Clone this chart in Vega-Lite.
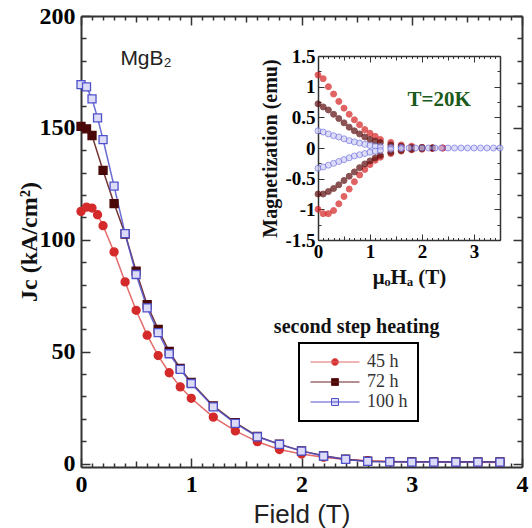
{
  "$schema": "https://vega.github.io/schema/vega-lite/v6.json",
  "width": 441,
  "height": 451,
  "autosize": "none",
  "padding": {"left": 81, "top": 16, "right": 10, "bottom": 61},
  "background": "white",
  "config": {"view": {"stroke": null}, "axis": {"grid": false}, "legend": {"strokeWidth": 2}},
  "datasets": {
    "main": [
      {"series": "45 h", "field": 0, "jc": 112.7}, {"series": "45 h", "field": 0.05, "jc": 114.6}, {"series": "45 h", "field": 0.1, "jc": 114.2}, {"series": "45 h", "field": 0.15, "jc": 111.2}, {"series": "45 h", "field": 0.2, "jc": 106.3}, {"series": "45 h", "field": 0.3, "jc": 94.6}, {"series": "45 h", "field": 0.4, "jc": 81.2}, {"series": "45 h", "field": 0.5, "jc": 68.5}, {"series": "45 h", "field": 0.6, "jc": 57.4}, {"series": "45 h", "field": 0.7, "jc": 48.3}, {"series": "45 h", "field": 0.8, "jc": 40.6}, {"series": "45 h", "field": 0.9, "jc": 34.3}, {"series": "45 h", "field": 1.0, "jc": 29.2}, {"series": "45 h", "field": 1.2, "jc": 20.8}, {"series": "45 h", "field": 1.4, "jc": 14.6}, {"series": "45 h", "field": 1.6, "jc": 9.8}, {"series": "45 h", "field": 1.8, "jc": 6.3}, {"series": "45 h", "field": 2.0, "jc": 4.3}, {"series": "45 h", "field": 2.2, "jc": 2.9}, {"series": "45 h", "field": 2.4, "jc": 1.9}, {"series": "45 h", "field": 2.6, "jc": 1.3}, {"series": "45 h", "field": 2.8, "jc": 1.0}, {"series": "45 h", "field": 3.0, "jc": 0.8}, {"series": "45 h", "field": 3.2, "jc": 0.7}, {"series": "45 h", "field": 3.4, "jc": 0.6}, {"series": "45 h", "field": 3.6, "jc": 0.6}, {"series": "45 h", "field": 3.8, "jc": 0.5},
      {"series": "72 h", "field": 0, "jc": 150.7}, {"series": "72 h", "field": 0.05, "jc": 149.6}, {"series": "72 h", "field": 0.1, "jc": 146.6}, {"series": "72 h", "field": 0.2, "jc": 131}, {"series": "72 h", "field": 0.3, "jc": 116.2}, {"series": "72 h", "field": 0.4, "jc": 102.6}, {"series": "72 h", "field": 0.5, "jc": 86}, {"series": "72 h", "field": 0.6, "jc": 71}, {"series": "72 h", "field": 0.7, "jc": 60}, {"series": "72 h", "field": 0.8, "jc": 50.1}, {"series": "72 h", "field": 0.9, "jc": 42.6}, {"series": "72 h", "field": 1.0, "jc": 36.3}, {"series": "72 h", "field": 1.2, "jc": 25.8}, {"series": "72 h", "field": 1.4, "jc": 18.3}, {"series": "72 h", "field": 1.6, "jc": 12.2}, {"series": "72 h", "field": 1.8, "jc": 8.7}, {"series": "72 h", "field": 2.0, "jc": 5.7}, {"series": "72 h", "field": 2.2, "jc": 3.5}, {"series": "72 h", "field": 2.4, "jc": 2.0}, {"series": "72 h", "field": 2.6, "jc": 1.1}, {"series": "72 h", "field": 2.8, "jc": 0.9}, {"series": "72 h", "field": 3.0, "jc": 0.8}, {"series": "72 h", "field": 3.2, "jc": 0.8}, {"series": "72 h", "field": 3.4, "jc": 0.8}, {"series": "72 h", "field": 3.6, "jc": 0.8}, {"series": "72 h", "field": 3.8, "jc": 0.8},
      {"series": "100 h", "field": 0, "jc": 169.3}, {"series": "100 h", "field": 0.05, "jc": 168.3}, {"series": "100 h", "field": 0.1, "jc": 163}, {"series": "100 h", "field": 0.15, "jc": 154.5}, {"series": "100 h", "field": 0.2, "jc": 144.8}, {"series": "100 h", "field": 0.3, "jc": 124}, {"series": "100 h", "field": 0.4, "jc": 102.8}, {"series": "100 h", "field": 0.5, "jc": 84.5}, {"series": "100 h", "field": 0.6, "jc": 69.6}, {"series": "100 h", "field": 0.7, "jc": 58.5}, {"series": "100 h", "field": 0.8, "jc": 49.1}, {"series": "100 h", "field": 0.9, "jc": 42.1}, {"series": "100 h", "field": 1.0, "jc": 35.8}, {"series": "100 h", "field": 1.2, "jc": 25.4}, {"series": "100 h", "field": 1.4, "jc": 18}, {"series": "100 h", "field": 1.6, "jc": 12}, {"series": "100 h", "field": 1.8, "jc": 8.6}, {"series": "100 h", "field": 2.0, "jc": 5.6}, {"series": "100 h", "field": 2.2, "jc": 3.4}, {"series": "100 h", "field": 2.4, "jc": 1.9}, {"series": "100 h", "field": 2.6, "jc": 1.0}, {"series": "100 h", "field": 2.8, "jc": 0.8}, {"series": "100 h", "field": 3.0, "jc": 0.7}, {"series": "100 h", "field": 3.2, "jc": 0.7}, {"series": "100 h", "field": 3.4, "jc": 0.7}, {"series": "100 h", "field": 3.6, "jc": 0.7}, {"series": "100 h", "field": 3.8, "jc": 0.7}
    ],
    "inset": [
      {"series": "45 h", "branch": "up", "h": 0, "m": 1.19}, {"series": "45 h", "branch": "up", "h": 0.1, "m": 1.13}, {"series": "45 h", "branch": "up", "h": 0.2, "m": 1.0}, {"series": "45 h", "branch": "up", "h": 0.3, "m": 0.88}, {"series": "45 h", "branch": "up", "h": 0.4, "m": 0.76}, {"series": "45 h", "branch": "up", "h": 0.5, "m": 0.65}, {"series": "45 h", "branch": "up", "h": 0.6, "m": 0.55}, {"series": "45 h", "branch": "up", "h": 0.7, "m": 0.46}, {"series": "45 h", "branch": "up", "h": 0.8, "m": 0.38}, {"series": "45 h", "branch": "up", "h": 0.9, "m": 0.3}, {"series": "45 h", "branch": "up", "h": 1.0, "m": 0.24}, {"series": "45 h", "branch": "up", "h": 1.1, "m": 0.19}, {"series": "45 h", "branch": "up", "h": 1.2, "m": 0.14}, {"series": "45 h", "branch": "up", "h": 1.4, "m": 0.09}, {"series": "45 h", "branch": "up", "h": 1.6, "m": 0.05}, {"series": "45 h", "branch": "up", "h": 1.8, "m": 0.03}, {"series": "45 h", "branch": "up", "h": 2.0, "m": 0.01}, {"series": "45 h", "branch": "up", "h": 2.2, "m": 0.005}, {"series": "45 h", "branch": "up", "h": 2.4, "m": 0},
      {"series": "45 h", "branch": "down", "h": 0, "m": -1.0}, {"series": "45 h", "branch": "down", "h": 0.1, "m": -1.07}, {"series": "45 h", "branch": "down", "h": 0.2, "m": -1.07}, {"series": "45 h", "branch": "down", "h": 0.3, "m": -1.02}, {"series": "45 h", "branch": "down", "h": 0.4, "m": -0.91}, {"series": "45 h", "branch": "down", "h": 0.5, "m": -0.79}, {"series": "45 h", "branch": "down", "h": 0.6, "m": -0.67}, {"series": "45 h", "branch": "down", "h": 0.7, "m": -0.55}, {"series": "45 h", "branch": "down", "h": 0.8, "m": -0.44}, {"series": "45 h", "branch": "down", "h": 0.9, "m": -0.35}, {"series": "45 h", "branch": "down", "h": 1.0, "m": -0.27}, {"series": "45 h", "branch": "down", "h": 1.1, "m": -0.2}, {"series": "45 h", "branch": "down", "h": 1.2, "m": -0.15}, {"series": "45 h", "branch": "down", "h": 1.4, "m": -0.09}, {"series": "45 h", "branch": "down", "h": 1.6, "m": -0.05}, {"series": "45 h", "branch": "down", "h": 1.8, "m": -0.03}, {"series": "45 h", "branch": "down", "h": 2.0, "m": -0.02}, {"series": "45 h", "branch": "down", "h": 2.2, "m": -0.01}, {"series": "45 h", "branch": "down", "h": 2.4, "m": 0},
      {"series": "72 h", "branch": "up", "h": 0, "m": 0.72}, {"series": "72 h", "branch": "up", "h": 0.1, "m": 0.67}, {"series": "72 h", "branch": "up", "h": 0.2, "m": 0.62}, {"series": "72 h", "branch": "up", "h": 0.3, "m": 0.55}, {"series": "72 h", "branch": "up", "h": 0.4, "m": 0.48}, {"series": "72 h", "branch": "up", "h": 0.5, "m": 0.41}, {"series": "72 h", "branch": "up", "h": 0.6, "m": 0.34}, {"series": "72 h", "branch": "up", "h": 0.7, "m": 0.28}, {"series": "72 h", "branch": "up", "h": 0.8, "m": 0.23}, {"series": "72 h", "branch": "up", "h": 0.9, "m": 0.18}, {"series": "72 h", "branch": "up", "h": 1.0, "m": 0.14}, {"series": "72 h", "branch": "up", "h": 1.1, "m": 0.11}, {"series": "72 h", "branch": "up", "h": 1.2, "m": 0.09}, {"series": "72 h", "branch": "up", "h": 1.4, "m": 0.05}, {"series": "72 h", "branch": "up", "h": 1.6, "m": 0.03}, {"series": "72 h", "branch": "up", "h": 1.8, "m": 0.01}, {"series": "72 h", "branch": "up", "h": 2.0, "m": 0.01}, {"series": "72 h", "branch": "up", "h": 2.2, "m": 0},
      {"series": "72 h", "branch": "down", "h": 0, "m": -0.75}, {"series": "72 h", "branch": "down", "h": 0.1, "m": -0.75}, {"series": "72 h", "branch": "down", "h": 0.2, "m": -0.71}, {"series": "72 h", "branch": "down", "h": 0.3, "m": -0.66}, {"series": "72 h", "branch": "down", "h": 0.4, "m": -0.6}, {"series": "72 h", "branch": "down", "h": 0.5, "m": -0.53}, {"series": "72 h", "branch": "down", "h": 0.6, "m": -0.46}, {"series": "72 h", "branch": "down", "h": 0.7, "m": -0.39}, {"series": "72 h", "branch": "down", "h": 0.8, "m": -0.32}, {"series": "72 h", "branch": "down", "h": 0.9, "m": -0.26}, {"series": "72 h", "branch": "down", "h": 1.0, "m": -0.21}, {"series": "72 h", "branch": "down", "h": 1.1, "m": -0.16}, {"series": "72 h", "branch": "down", "h": 1.2, "m": -0.12}, {"series": "72 h", "branch": "down", "h": 1.4, "m": -0.07}, {"series": "72 h", "branch": "down", "h": 1.6, "m": -0.04}, {"series": "72 h", "branch": "down", "h": 1.8, "m": -0.02}, {"series": "72 h", "branch": "down", "h": 2.0, "m": -0.01}, {"series": "72 h", "branch": "down", "h": 2.2, "m": 0},
      {"series": "100 h", "branch": "up", "h": 0, "m": 0.28}, {"series": "100 h", "branch": "up", "h": 0.1, "m": 0.26}, {"series": "100 h", "branch": "up", "h": 0.2, "m": 0.23}, {"series": "100 h", "branch": "up", "h": 0.3, "m": 0.2}, {"series": "100 h", "branch": "up", "h": 0.4, "m": 0.18}, {"series": "100 h", "branch": "up", "h": 0.5, "m": 0.15}, {"series": "100 h", "branch": "up", "h": 0.6, "m": 0.12}, {"series": "100 h", "branch": "up", "h": 0.7, "m": 0.1}, {"series": "100 h", "branch": "up", "h": 0.8, "m": 0.08}, {"series": "100 h", "branch": "up", "h": 0.9, "m": 0.06}, {"series": "100 h", "branch": "up", "h": 1.0, "m": 0.04}, {"series": "100 h", "branch": "up", "h": 1.1, "m": 0.03}, {"series": "100 h", "branch": "up", "h": 1.2, "m": 0.02}, {"series": "100 h", "branch": "up", "h": 1.4, "m": 0.01}, {"series": "100 h", "branch": "up", "h": 1.6, "m": 0.01}, {"series": "100 h", "branch": "up", "h": 1.75, "m": 0}, {"series": "100 h", "branch": "up", "h": 2.0, "m": 0}, {"series": "100 h", "branch": "up", "h": 2.25, "m": 0}, {"series": "100 h", "branch": "up", "h": 2.5, "m": 0}, {"series": "100 h", "branch": "up", "h": 2.75, "m": 0}, {"series": "100 h", "branch": "up", "h": 3.0, "m": 0}, {"series": "100 h", "branch": "up", "h": 3.25, "m": 0}, {"series": "100 h", "branch": "up", "h": 3.5, "m": 0},
      {"series": "100 h", "branch": "down", "h": 0, "m": -0.33}, {"series": "100 h", "branch": "down", "h": 0.1, "m": -0.31}, {"series": "100 h", "branch": "down", "h": 0.2, "m": -0.28}, {"series": "100 h", "branch": "down", "h": 0.3, "m": -0.25}, {"series": "100 h", "branch": "down", "h": 0.4, "m": -0.22}, {"series": "100 h", "branch": "down", "h": 0.5, "m": -0.19}, {"series": "100 h", "branch": "down", "h": 0.6, "m": -0.16}, {"series": "100 h", "branch": "down", "h": 0.7, "m": -0.13}, {"series": "100 h", "branch": "down", "h": 0.8, "m": -0.11}, {"series": "100 h", "branch": "down", "h": 0.9, "m": -0.09}, {"series": "100 h", "branch": "down", "h": 1.0, "m": -0.07}, {"series": "100 h", "branch": "down", "h": 1.1, "m": -0.05}, {"series": "100 h", "branch": "down", "h": 1.2, "m": -0.04}, {"series": "100 h", "branch": "down", "h": 1.4, "m": -0.02}, {"series": "100 h", "branch": "down", "h": 1.6, "m": -0.01}, {"series": "100 h", "branch": "down", "h": 1.875, "m": 0}, {"series": "100 h", "branch": "down", "h": 2.125, "m": 0}, {"series": "100 h", "branch": "down", "h": 2.375, "m": 0}, {"series": "100 h", "branch": "down", "h": 2.625, "m": 0}, {"series": "100 h", "branch": "down", "h": 2.875, "m": 0}, {"series": "100 h", "branch": "down", "h": 3.125, "m": 0}, {"series": "100 h", "branch": "down", "h": 3.375, "m": 0}
    ]
  },
  "resolve": {"scale": {"x": "independent", "y": "independent", "fill": "independent", "stroke": "independent", "color": "independent", "shape": "independent"}},
  "layer": [
    {
      "data": {"name": "main"},
      "mark": {"type": "line", "strokeWidth": 1.5, "opacity": 0.85},
      "encoding": {
        "x": {"field": "field", "type": "quantitative", "scale": {"domain": [0, 4], "nice": false, "zero": false},
          "axis": {"orient": "bottom", "values": [0,0.1,0.2,0.3,0.4,0.5,0.6,0.7,0.8,0.9,1,1.1,1.2,1.3,1.4,1.5,1.6,1.7,1.8,1.9,2,2.1,2.2,2.3,2.4,2.5,2.6,2.7,2.8,2.9,3,3.1,3.2,3.3,3.4,3.5,3.6,3.7,3.8,3.9,4],
            "labelExpr": "datum.value % 1 === 0 ? '' + datum.value : ''",
            "tickSize": {"condition": [{"test": "datum.value % 1 === 0", "value": -9}, {"test": "datum.value % 0.5 === 0", "value": -6}], "value": -4},
            "labelFont": "Liberation Serif", "labelFontSize": 24, "labelFontWeight": "bold", "labelColor": "black", "labelPadding": 14,
            "labelOverlap": false, "labelFlush": false, "labelBound": false,
            "title": "Field (T)", "titleFont": "Liberation Sans", "titleFontSize": 26, "titleFontWeight": "normal", "titleColor": "#222", "titlePadding": 0,
            "domainColor": "#333", "domainWidth": 2, "tickColor": "#333", "tickWidth": 1.5, "grid": false}},
        "y": {"field": "jc", "type": "quantitative", "scale": {"domain": [-1.5, 200], "nice": false, "zero": false},
          "axis": {"orient": "left", "values": [0,10,20,30,40,50,60,70,80,90,100,110,120,130,140,150,160,170,180,190,200],
            "labelExpr": "datum.value % 50 === 0 ? '' + datum.value : ''",
            "tickSize": {"condition": {"test": "datum.value % 50 === 0", "value": -9}, "value": -5},
            "labelFont": "Liberation Serif", "labelFontSize": 24, "labelFontWeight": "bold", "labelColor": "black", "labelPadding": 15,
            "labelOverlap": false, "labelFlush": false, "labelBound": false,
            "title": "Jc (kA/cm²)", "titleFont": "Liberation Serif", "titleFontSize": 24, "titleFontWeight": "bold", "titleColor": "#111", "titlePadding": -2,
            "domainColor": "#333", "domainWidth": 2, "tickColor": "#333", "tickWidth": 1.5, "grid": false}},
        "color": {"field": "series", "type": "nominal",
          "scale": {"domain": ["45 h", "72 h", "100 h"], "range": ["#e05050", "#5a1010", "#5050cc"]},
          "legend": null}
      }
    },
    {
      "data": {"name": "main"},
      "mark": {"type": "point", "filled": true, "size": 64, "strokeWidth": 1.3, "opacity": 1},
      "encoding": {
        "x": {"field": "field", "type": "quantitative", "scale": {"domain": [0, 4], "nice": false, "zero": false}, "axis": null},
        "y": {"field": "jc", "type": "quantitative", "scale": {"domain": [-1.5, 200], "nice": false, "zero": false}, "axis": null},
        "shape": {"field": "series", "type": "nominal", "scale": {"domain": ["45 h", "72 h", "100 h"], "range": ["circle", "square", "square"]}, "legend": null},
        "fill": {"field": "series", "type": "nominal", "scale": {"domain": ["45 h", "72 h", "100 h"], "range": ["#d42a2a", "#4a0808", "#dcdcf8"]}, "legend": null},
        "stroke": {"field": "series", "type": "nominal", "scale": {"domain": ["45 h", "72 h", "100 h"], "range": ["#d42a2a", "#4a0808", "#5050cc"]}, "legend": null}
      }
    },
    {
      "data": {"name": "main"},
      "transform": [{"filter": "false"}],
      "mark": {"type": "point", "filled": true, "strokeWidth": 1, "opacity": 1},
      "encoding": {
        "x": {"field": "field", "type": "quantitative", "scale": {"domain": [0, 4], "nice": false, "zero": false}, "axis": null},
        "y": {"field": "jc", "type": "quantitative", "scale": {"domain": [-1.5, 200], "nice": false, "zero": false}, "axis": null},
        "shape": {"field": "series", "type": "nominal",
          "scale": {"domain": ["45 h", "72 h", "100 h"], "range": ["M-7,0L7,0M1,0A1,1,0,1,1,-1,0A1,1,0,1,1,1,0Z", "M-7,0L7,0M-1,-1L1,-1L1,1L-1,1Z", "M-7,0L7,0M-1,-1L1,-1L1,1L-1,1Z"]},
          "legend": {"orient": "none", "legendX": 218, "legendY": 327, "title": null, "strokeColor": "black", "padding": 10,
            "symbolSize": 49, "symbolOffset": 17, "labelOffset": 23, "labelAlign": "left",
            "labelFont": "Liberation Serif", "labelFontSize": 18, "labelFontWeight": "normal", "labelColor": "#333",
            "rowPadding": 2, "symbolStrokeWidth": 1,
            "encode": {"labels": {"fill": {"value": {"expr": "datum.value === '45 h' ? '#c83030' : datum.value === '72 h' ? '#6b1a1a' : '#3535a8'"}}}}}},
        "fill": {"field": "series", "type": "nominal",
          "scale": {"domain": ["45 h", "72 h", "100 h"], "range": ["#d42a2a", "#4a0808", "#dcdcf8"]},
          "legend": {"orient": "none", "legendX": 218, "legendY": 327, "title": null, "strokeColor": "black", "padding": 10,
            "symbolSize": 49, "symbolOffset": 17, "labelOffset": 23, "labelAlign": "left",
            "labelFont": "Liberation Serif", "labelFontSize": 18, "labelFontWeight": "normal", "labelColor": "#333",
            "rowPadding": 2, "symbolStrokeWidth": 1}},
        "stroke": {"field": "series", "type": "nominal",
          "scale": {"domain": ["45 h", "72 h", "100 h"], "range": ["#e06a6a", "#6a2020", "#5050cc"]},
          "legend": {"orient": "none", "legendX": 218, "legendY": 327, "title": null, "strokeColor": "black", "padding": 10,
            "symbolSize": 49, "symbolOffset": 17, "labelOffset": 23, "labelAlign": "left",
            "labelFont": "Liberation Serif", "labelFontSize": 18, "labelFontWeight": "normal", "labelColor": "#333",
            "rowPadding": 2, "symbolStrokeWidth": 1}}
      }
    },
    {
      "data": {"values": [{"note": "MgB₂"}]},
      "mark": {"type": "text", "font": "Liberation Sans", "fontSize": 21, "align": "center", "baseline": "middle", "color": "#222"},
      "encoding": {
        "x": {"datum": 0.59, "type": "quantitative", "scale": {"domain": [0, 4], "nice": false, "zero": false}, "axis": null},
        "y": {"datum": 181, "type": "quantitative", "scale": {"domain": [-1.5, 200], "nice": false, "zero": false}, "axis": null},
        "text": {"field": "note"}
      }
    },
    {
      "data": {"values": [{"note": "second step heating"}]},
      "mark": {"type": "text", "font": "Liberation Serif", "fontSize": 20, "fontWeight": "bold", "align": "center", "baseline": "middle", "color": "#111"},
      "encoding": {
        "x": {"datum": 2.5, "type": "quantitative", "scale": {"domain": [0, 4], "nice": false, "zero": false}, "axis": null},
        "y": {"datum": 61, "type": "quantitative", "scale": {"domain": [-1.5, 200], "nice": false, "zero": false}, "axis": null},
        "text": {"field": "note"}
      }
    },
    {
      "data": {"name": "main"},
      "mark": {"type": "point", "opacity": 0},
      "encoding": {
        "x": {"field": "field", "type": "quantitative", "scale": {"domain": [0, 4], "nice": false, "zero": false},
          "axis": {"orient": "top", "values": [0,0.1,0.2,0.3,0.4,0.5,0.6,0.7,0.8,0.9,1,1.1,1.2,1.3,1.4,1.5,1.6,1.7,1.8,1.9,2,2.1,2.2,2.3,2.4,2.5,2.6,2.7,2.8,2.9,3,3.1,3.2,3.3,3.4,3.5,3.6,3.7,3.8,3.9,4],
            "labels": false, "title": null,
            "tickSize": {"condition": [{"test": "datum.value % 1 === 0", "value": -9}, {"test": "datum.value % 0.5 === 0", "value": -6}], "value": -4},
            "domainColor": "#333", "domainWidth": 2, "tickColor": "#333", "tickWidth": 1.5, "grid": false}},
        "y": {"field": "jc", "type": "quantitative", "scale": {"domain": [-1.5, 200], "nice": false, "zero": false},
          "axis": {"orient": "right", "values": [0,10,20,30,40,50,60,70,80,90,100,110,120,130,140,150,160,170,180,190,200],
            "labels": false, "title": null,
            "tickSize": {"condition": {"test": "datum.value % 50 === 0", "value": -9}, "value": -5},
            "domainColor": "#333", "domainWidth": 2, "tickColor": "#333", "tickWidth": 1.5, "grid": false}}
      }
    },
    {
      "data": {"name": "inset"},
      "mark": {"type": "point", "filled": true, "size": 36, "strokeWidth": 1},
      "encoding": {
        "x": {"field": "h", "type": "quantitative", "scale": {"domain": [0, 3.5], "range": [237, 419], "nice": false, "zero": false},
          "axis": {"orient": "bottom", "offset": -227, "values": [0,0.1,0.2,0.3,0.4,0.5,0.6,0.7,0.8,0.9,1,1.1,1.2,1.3,1.4,1.5,1.6,1.7,1.8,1.9,2,2.1,2.2,2.3,2.4,2.5,2.6,2.7,2.8,2.9,3,3.1,3.2,3.3,3.4,3.5],
            "labelExpr": "datum.value % 1 === 0 ? '' + datum.value : ''",
            "tickSize": {"condition": [{"test": "datum.value % 1 === 0", "value": -6}, {"test": "datum.value % 0.5 === 0", "value": -4}], "value": -2.5},
            "labelFont": "Liberation Serif", "labelFontSize": 19, "labelFontWeight": "bold", "labelColor": "black", "labelPadding": 8,
            "labelOverlap": false, "labelFlush": false, "labelBound": false,
            "title": "μₒHₐ (T)", "titleFont": "Liberation Serif, DejaVu Serif", "titleFontSize": 21, "titleFontWeight": "bold", "titleColor": "#111", "titlePadding": 2,
            "domainColor": "#333", "domainWidth": 1.5, "tickColor": "#333", "tickWidth": 1, "grid": false}},
        "y": {"field": "m", "type": "quantitative", "scale": {"domain": [-1.5, 1.5], "range": [224, 40], "nice": false, "zero": false},
          "axis": {"orient": "left", "offset": -237, "values": [-1.5,-1.25,-1,-0.75,-0.5,-0.25,0,0.25,0.5,0.75,1,1.25,1.5],
            "labelExpr": "(datum.value * 2) % 1 === 0 ? '' + datum.value : ''",
            "tickSize": {"condition": {"test": "(datum.value * 2) % 1 === 0", "value": -6}, "value": -3},
            "labelFont": "Liberation Serif", "labelFontSize": 19, "labelFontWeight": "bold", "labelColor": "black", "labelPadding": 9,
            "labelOverlap": false, "labelFlush": false, "labelBound": false,
            "title": "Magnetization (emu)", "titleFont": "Liberation Serif", "titleFontSize": 20, "titleFontWeight": "bold", "titleColor": "#111", "titlePadding": 4,
            "domainColor": "#333", "domainWidth": 1.5, "tickColor": "#333", "tickWidth": 1, "grid": false}},
        "fill": {"field": "series", "type": "nominal", "scale": {"domain": ["45 h", "72 h", "100 h"], "range": ["#d42020", "#5a0a0a", "#d0d0f6"]}, "legend": null},
        "stroke": {"field": "series", "type": "nominal", "scale": {"domain": ["45 h", "72 h", "100 h"], "range": ["#d42020", "#5a0a0a", "#6c6ce0"]}, "legend": null}
      }
    },
    {
      "data": {"values": [{"note": "T=20K"}]},
      "mark": {"type": "text", "font": "Liberation Serif", "fontSize": 21, "fontWeight": "bold", "align": "center", "baseline": "middle", "color": "#1a5a1a"},
      "encoding": {
        "x": {"datum": 2.33, "type": "quantitative", "scale": {"domain": [0, 3.5], "range": [237, 419], "nice": false, "zero": false}, "axis": null},
        "y": {"datum": 0.78, "type": "quantitative", "scale": {"domain": [-1.5, 1.5], "range": [224, 40], "nice": false, "zero": false}, "axis": null},
        "text": {"field": "note"}
      }
    },
    {
      "data": {"name": "inset"},
      "mark": {"type": "point", "opacity": 0},
      "encoding": {
        "x": {"field": "h", "type": "quantitative", "scale": {"domain": [0, 3.5], "range": [237, 419], "nice": false, "zero": false},
          "axis": {"orient": "top", "offset": -40, "values": [0,0.1,0.2,0.3,0.4,0.5,0.6,0.7,0.8,0.9,1,1.1,1.2,1.3,1.4,1.5,1.6,1.7,1.8,1.9,2,2.1,2.2,2.3,2.4,2.5,2.6,2.7,2.8,2.9,3,3.1,3.2,3.3,3.4,3.5],
            "labels": false, "title": null,
            "tickSize": {"condition": [{"test": "datum.value % 1 === 0", "value": -6}, {"test": "datum.value % 0.5 === 0", "value": -4}], "value": -2.5},
            "domainColor": "#333", "domainWidth": 1.5, "tickColor": "#333", "tickWidth": 1, "grid": false}},
        "y": {"field": "m", "type": "quantitative", "scale": {"domain": [-1.5, 1.5], "range": [224, 40], "nice": false, "zero": false},
          "axis": {"orient": "right", "offset": -22, "values": [-1.5,-1.25,-1,-0.75,-0.5,-0.25,0,0.25,0.5,0.75,1,1.25,1.5],
            "labels": false, "title": null,
            "tickSize": {"condition": {"test": "(datum.value * 2) % 1 === 0", "value": -6}, "value": -3},
            "domainColor": "#333", "domainWidth": 1.5, "tickColor": "#333", "tickWidth": 1, "grid": false}}
      }
    }
  ]
}
